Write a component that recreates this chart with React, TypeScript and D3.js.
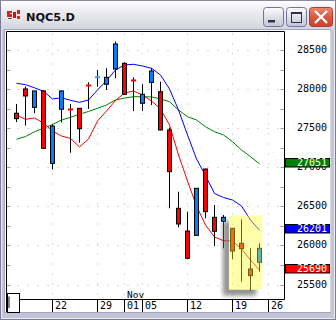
import React, { useEffect } from 'react';
import * as d3 from 'd3';

// ---- data ----
const opens = [27700, 28010, 27775, 27985, 27058, 27750, 27754, 27762, 28061, 28141, 28070, 28266, 28339, 28125, 27827, 28095, 27975, 27485, 26482, 26191, 26136, 26985, 26367, 26316, 26226, 26034, 25705, 25791];
const highs = [27818, 28040, 27985, 27995, 27555, 27990, 27818, 27765, 28095, 28253, 28275, 28615, 28351, 28159, 28070, 28275, 28103, 27514, 26695, 26439, 26740, 26990, 26524, 26396, 26230, 26341, 25970, 26034];
const lows = [27587, 27540, 27698, 27245, 26981, 27583, 27194, 27322, 27754, 28039, 27997, 28147, 27935, 27728, 27728, 27805, 27480, 26482, 26239, 25830, 26130, 26354, 25999, 25970, 25829, 25542, 25427, 25670];
const closes = [27630, 27920, 27985, 27250, 27535, 27985, 27732, 27501, 28031, 28167, 28159, 28586, 27942, 28095, 27942, 28240, 27485, 26951, 26281, 25842, 26738, 26439, 26188, 26367, 25935, 25965, 25619, 25970];

const maRed = [27677, 27622, 27638, 27574, 27472, 27408, 27376, 27267, 27369, 27600, 27728, 27862, 27958, 27984, 27933, 27856, 27754, 27549, 27165, 26832, 26512, 26268, 26115, 26067, 26062, 25961, 25820, 25690];
const maBlue = [28083, 28065, 28025, 27980, 27882, 27897, 27865, 27839, 27869, 27997, 28118, 28253, 28317, 28326, 28304, 28275, 28189, 28010, 27741, 27421, 27113, 26902, 26672, 26620, 26588, 26512, 26332, 26201];
const maGreen = [27366, 27401, 27463, 27506, 27555, 27613, 27647, 27686, 27722, 27762, 27805, 27869, 27894, 27911, 27911, 27908, 27882, 27847, 27741, 27655, 27613, 27527, 27463, 27421, 27335, 27229, 27143, 27051];

const yTicks = [25500, 26000, 26500, 27000, 27500, 28000, 28500];
const yMinor = [25750, 26250, 26750, 27250, 27750, 28250];
const dateLabels = ['22', '29', '01', '05', '12', '19', '26'];
const dateIndex = [4, 9, 12, 14, 19, 24, 28];
const monthLabel = 'Nov';
const monthIndex = 12;
const lastLabels = ['27051', '26201', '25690'];
const lastValues = [27051, 26201, 25690];
const highlightFrom = 23.6;
const highlightTo = 27.3;
const highlightTop = 26390;
const highlightBottom = 25440;
const title = 'NQC5.D';

export default function App() {
  useEffect(() => {
    document.body.style.margin = '0';
  }, []);

  const W = 336, H = 320;
  const plotL = 6.5, plotR = 284.5, plotT = 31.5, plotB = 299.5;
  const x = d3.scaleLinear().domain([0, 27]).range([16.5, 259.5]);
  const y = d3.scaleLinear().domain([25500, 28500]).range([285, 50.7]);
  const crisp = (v: number) => Math.round(v - 0.5) + 0.5;

  const line = d3.line<number>().x((_, i) => x(i)).y((d) => y(d));
  const mono = '"DejaVu Sans Mono", monospace';
  const RED = '#ff0000', BLUE = '#0080ff';
  const lastColors = ['#008000', '#0000ff', '#ff0000'];

  const hx0 = x(highlightFrom), hx1 = x(highlightTo);
  const hy0 = y(highlightTop), hy1 = y(highlightBottom);

  return (
    <svg width={W} height={H} style={{ position: 'absolute', left: 0, top: 0, display: 'block' }}>
      <defs>
        <linearGradient id="tb" x1="0" y1="0" x2="0" y2="1">
          <stop offset="0" stopColor="#ffffff" />
          <stop offset="0.25" stopColor="#f0f0f5" />
          <stop offset="1" stopColor="#d4d4de" />
        </linearGradient>
        <linearGradient id="btn" x1="0" y1="0" x2="0" y2="1">
          <stop offset="0" stopColor="#fbfbfd" />
          <stop offset="1" stopColor="#c4c4d6" />
        </linearGradient>
        <linearGradient id="cls" x1="0" y1="0" x2="0" y2="1">
          <stop offset="0" stopColor="#ec8a72" />
          <stop offset="0.5" stopColor="#da5a40" />
          <stop offset="1" stopColor="#c8432c" />
        </linearGradient>
        <filter id="blur" x="-20%" y="-20%" width="140%" height="140%">
          <feGaussianBlur stdDeviation="2.2" />
        </filter>
        <mask id="shmask">
          <rect x={0} y={0} width={W} height={H} fill="white" />
          <rect x={hx0} y={hy0} width={hx1 - hx0} height={hy1 - hy0} fill="black" />
        </mask>
        <clipPath id="plotclip">
          <rect x={plotL + 0.5} y={plotT + 0.5} width={plotR - plotL - 1} height={plotB - plotT - 1} />
        </clipPath>
      </defs>

      {/* window frame */}
      <rect x={0} y={0} width={W} height={H} fill="#c4c4d6" />
      <rect x={0.5} y={0.5} width={W - 1} height={H - 1} fill="none" stroke="#7c7c98" />
      <rect x={1.5} y={1.5} width={W - 3} height={H - 3} fill="none" stroke="#ececf3" />
      <rect x={1} y={1} width={W - 2} height={29} fill="url(#tb)" />
      <line x1={0} x2={W} y1={0.5} y2={0.5} stroke="#8a8aa4" />
      <rect x={4.5} y={29.5} width={326} height={283} fill="#ffffff" stroke="#a4a4c2" />
      <line x1={330.5} x2={330.5} y1={30} y2={312} stroke="#d8d8e0" />

      {/* title icon */}
      <rect x={6} y={10} width={15} height={10} fill="#e8e8e8" />
      <rect x={7} y={11} width={3} height={6} fill="#e02020" />
      <rect x={10} y={11} width={2} height={2} fill="#e02020" />
      <rect x={10} y={14} width={2} height={3} fill="#e02020" />
      <rect x={13} y={12} width={3} height={6} fill="#c01818" />
      <rect x={17} y={10} width={3} height={4} fill="#e02020" />
      <rect x={17} y={16} width={3} height={3} fill="#e02020" />
      <rect x={8} y={18} width={4} height={1} fill="#555" />
      <text x={26} y={20.5} fontFamily='"DejaVu Sans", sans-serif' fontWeight="bold" fontSize={11.3} fill="#111">{title}</text>

      {/* title buttons */}
      <rect x={263.5} y={7.5} width={20} height={19} rx={3} fill="url(#btn)" stroke="#74749a" />
      <rect x={268} y={20} width={7} height={2.5} fill="#30304a" />
      <rect x={286.5} y={7.5} width={20} height={19} rx={3} fill="url(#btn)" stroke="#74749a" />
      <rect x={291.5} y={12.5} width={10} height={10} fill="none" stroke="#30304a" />
      <rect x={291} y={12} width={11} height={2} fill="#30304a" />
      <rect x={309.5} y={7.5} width={23} height={19} rx={3} fill="url(#cls)" stroke="#a8402e" />
      <path d="M315,11 L327,23 M327,11 L315,23" stroke="#ffffff" strokeWidth={2.4} />

      {/* plot area */}
      <rect x={plotL} y={plotT} width={plotR - plotL} height={plotB - plotT} fill="#ffffff" />

      {/* gridlines */}
      {yTicks.map((t) => (
        <line key={'g' + t} x1={plotL + 1} x2={plotR - 1} y1={crisp(y(t))} y2={crisp(y(t))} stroke="#b4b4b4" strokeDasharray="1 9" />
      ))}
      {dateIndex.map((di, k) => (
        <line key={'v' + k} x1={x(di)} x2={x(di)} y1={plotT + 2} y2={plotB} stroke="#b4b4b4" strokeDasharray="1 9" />
      ))}
      {[...yTicks, ...yMinor].map((t) => (
        <g key={'m' + t}>
          <line x1={plotL} x2={plotL + 4} y1={crisp(y(t))} y2={crisp(y(t))} stroke="#a0a0a0" />
          <line x1={plotR - 4} x2={plotR} y1={crisp(y(t))} y2={crisp(y(t))} stroke="#a0a0a0" />
        </g>
      ))}

      <g clipPath="url(#plotclip)">
        {/* moving averages */}
        <path d={line(maGreen) || ''} fill="none" stroke="#008000" strokeWidth={1} />
        <path d={line(maBlue) || ''} fill="none" stroke="#0000ff" strokeWidth={1} />
        <path d={line(maRed) || ''} fill="none" stroke="#ff0000" strokeWidth={1} />

        {/* candles */}
        {opens.map((o, i) => {
          const c = closes[i];
          const cx = x(i);
          const up = c >= o;
          const top = y(Math.max(o, c));
          const bot = y(Math.min(o, c));
          const h = bot - top;
          return (
            <g key={'c' + i}>
              <line x1={cx} x2={cx} y1={y(highs[i])} y2={y(lows[i])} stroke="#000" />
              {h < 2.5 ? (
                <rect x={cx - 2.5} y={top - 0.5} width={5} height={2} fill={up ? '#3a9cff' : RED} />
              ) : (
                <rect x={cx - 2} y={top} width={4} height={h} fill={up ? BLUE : RED} stroke="#000" strokeWidth={1} />
              )}
            </g>
          );
        })}

        {/* highlight */}
        <rect x={hx0 - 6} y={hy0 + 6} width={hx1 - hx0} height={hy1 - hy0} fill="#6e6e6e" opacity={0.75} filter="url(#blur)" mask="url(#shmask)" />
        <rect x={hx0} y={hy0} width={hx1 - hx0} height={hy1 - hy0} fill="#ffff2a" opacity={0.4} />
      </g>

      {/* plot borders */}
      <line x1={plotL} x2={plotL} y1={plotT} y2={312} stroke="#000" />
      <line x1={plotL} x2={plotR} y1={plotT} y2={plotT} stroke="#000" />
      <line x1={plotR} x2={plotR} y1={plotT} y2={plotB} stroke="#000" />
      <line x1={plotL} x2={plotR} y1={plotB} y2={plotB} stroke="#000" />

      {/* x axis */}
      {dateIndex.map((di, k) => (
        <g key={'xt' + k}>
          <line x1={crisp(x(di))} x2={crisp(x(di))} y1={plotB} y2={312} stroke="#000" />
          <text x={crisp(x(di)) + 2.5} y={309.3} fontFamily={mono} fontSize={10} fill="#000">{dateLabels[k]}</text>
        </g>
      ))}
      <text x={crisp(x(monthIndex)) + 2.5} y={297.8} fontFamily={mono} fontSize={9.5} fill="#000">{monthLabel}</text>
      <rect x={7.5} y={293.5} width={12} height={19} fill="#ffffff" stroke="#000" />
      <line x1={9} x2={9} y1={296.5} y2={308} stroke="#000" />

      {/* y axis labels */}
      {yTicks.map((t) => (
        <text key={'yl' + t} x={297} y={crisp(y(t)) + 2.8} fontFamily={mono} fontSize={10} fill="#000">{d3.format('d')(t)}</text>
      ))}

      {/* last value boxes */}
      {lastValues.map((v, k) => {
        const yy = y(v);
        return (
          <g key={'lv' + k}>
            <rect x={285.5} y={Math.round(yy - 6) + 0.5} width={44} height={8.5} fill={lastColors[k]} stroke="#000" />
            <text x={297} y={Math.round(yy - 6) + 8.3} fontFamily={mono} fontSize={10} fill="#ffffff">{lastLabels[k]}</text>
          </g>
        );
      })}
    </svg>
  );
}
